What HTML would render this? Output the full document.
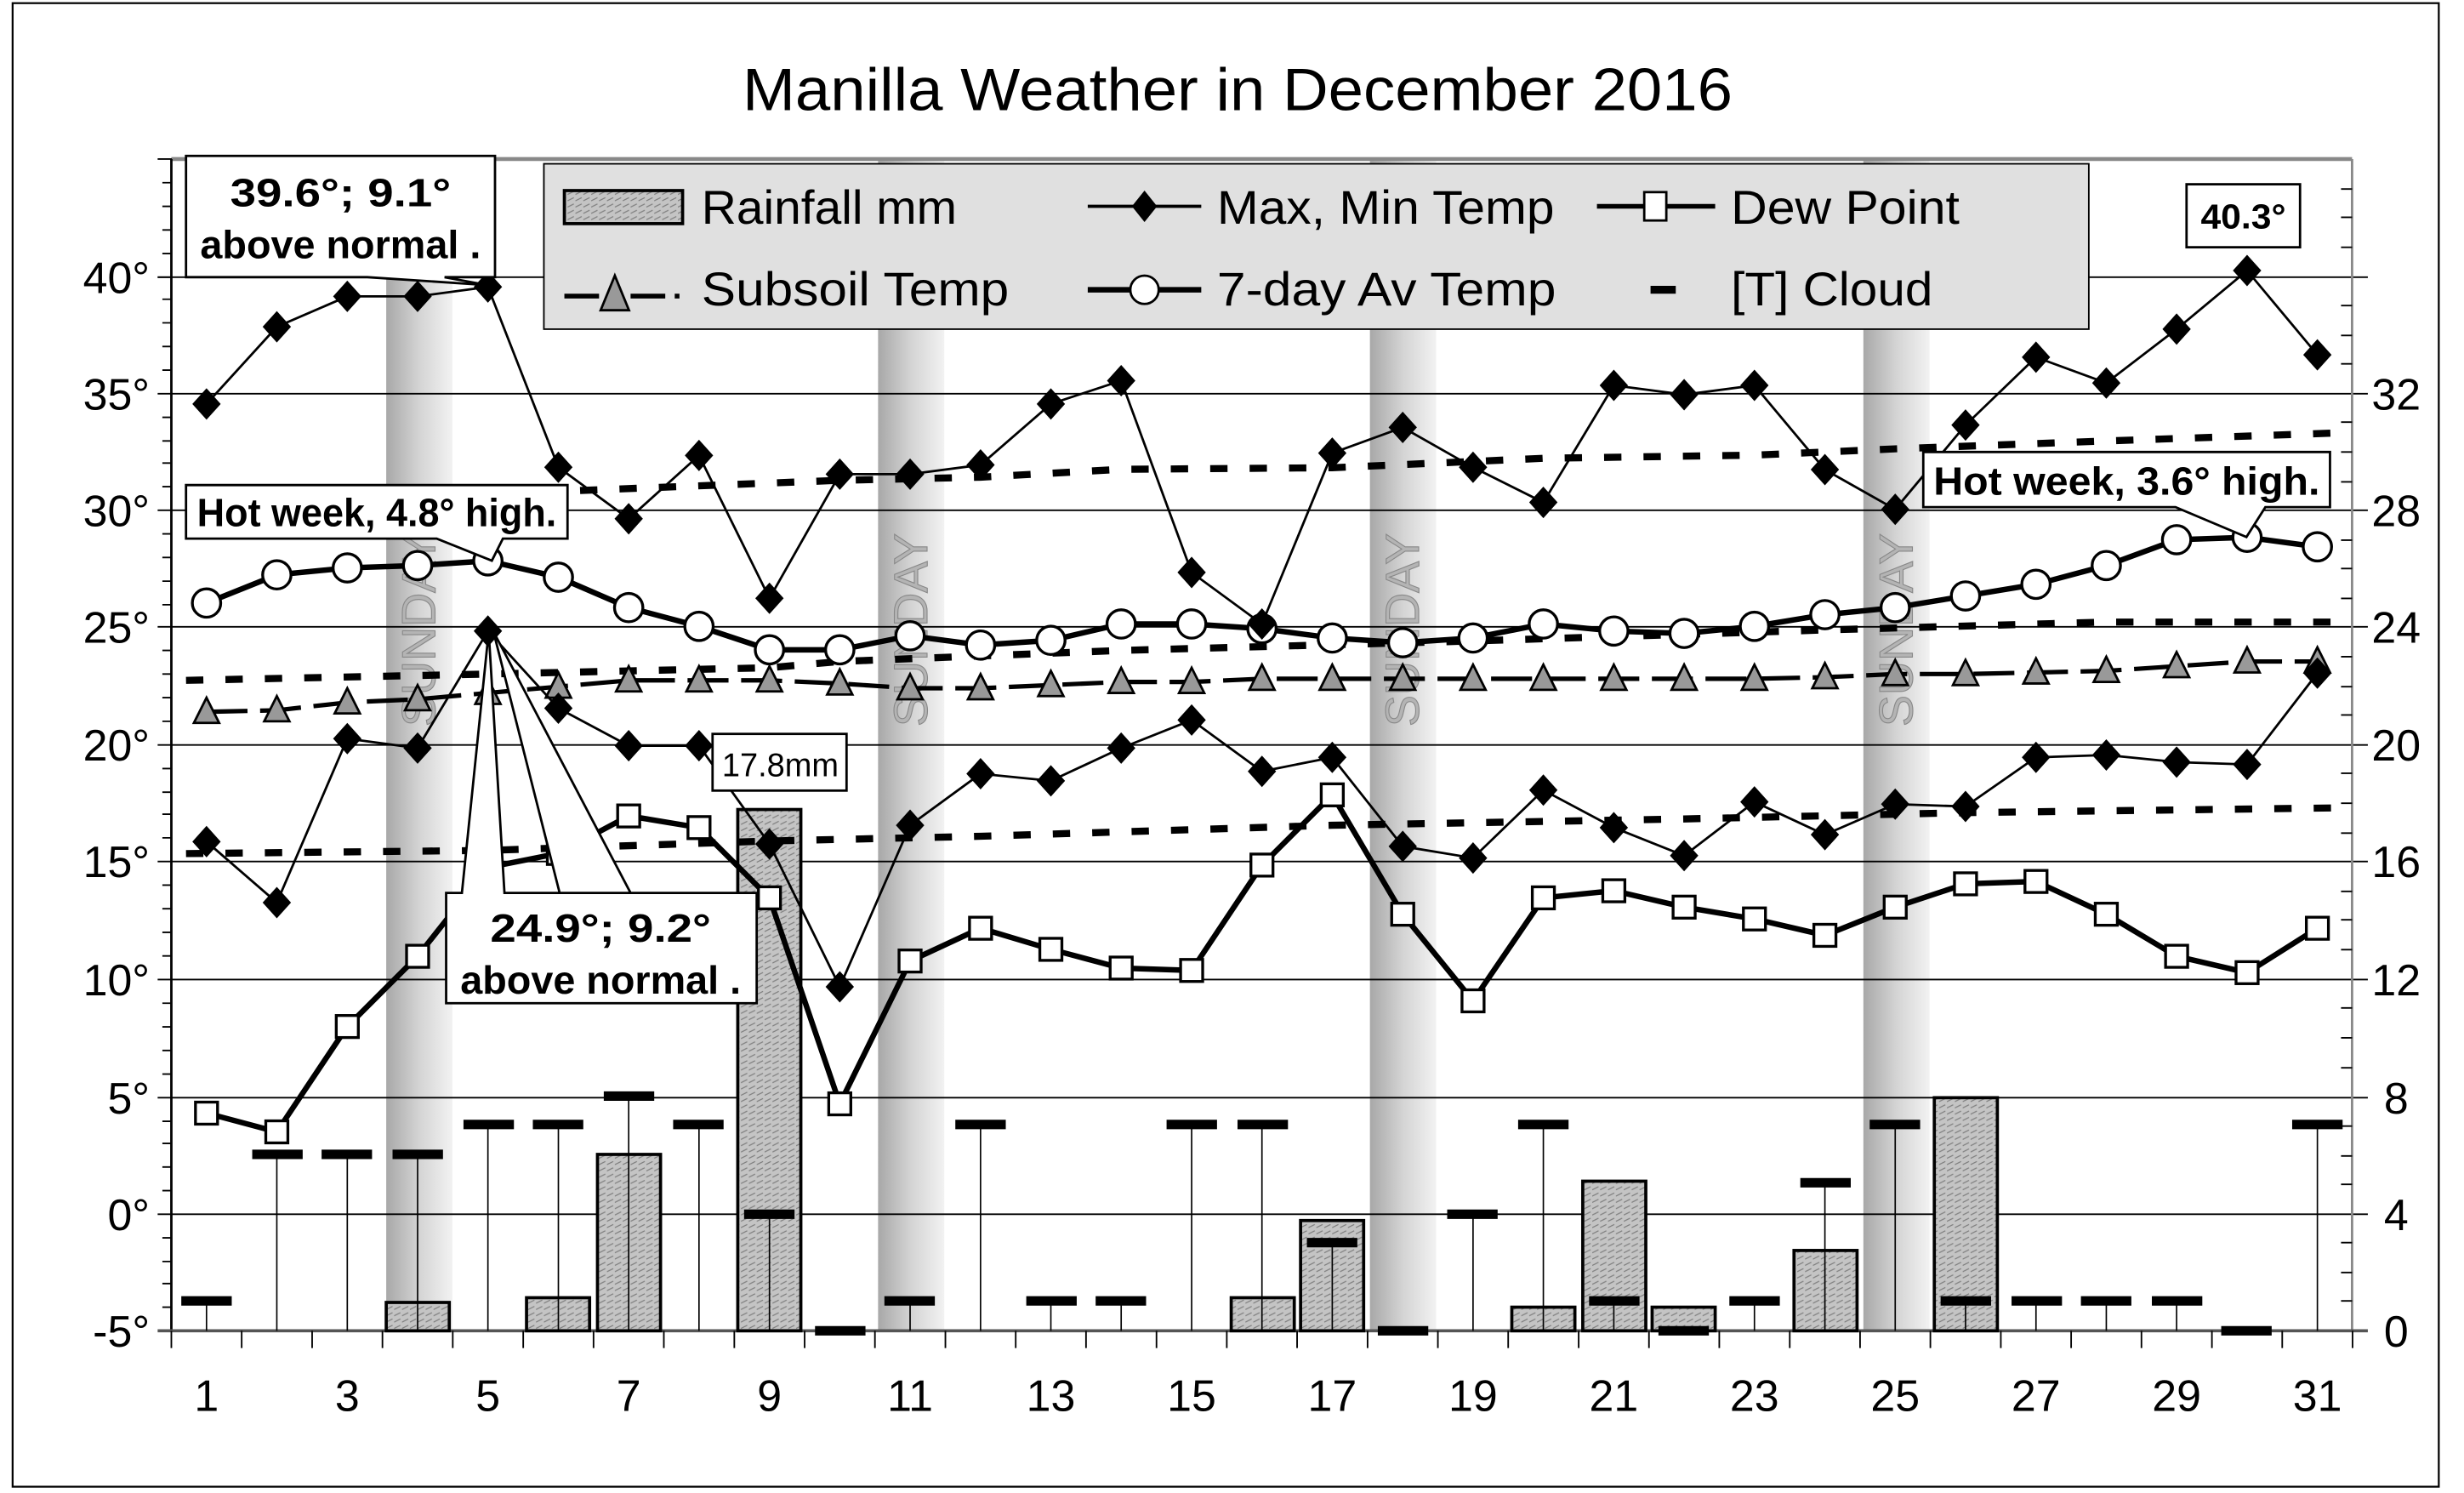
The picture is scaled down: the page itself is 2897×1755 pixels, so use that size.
<!DOCTYPE html>
<html><head><meta charset="utf-8"><style>html,body{margin:0;padding:0;background:#fff}svg{display:block}</style></head>
<body>
<svg width="2897" height="1755" viewBox="0 0 1563 948" preserveAspectRatio="none" xmlns="http://www.w3.org/2000/svg" font-family="Liberation Sans, Arial, sans-serif">
<defs>
<linearGradient id="sun" x1="0" x2="1" y1="0" y2="0"><stop offset="0" stop-color="#a8a8a8"/><stop offset="0.5" stop-color="#d4d4d4"/><stop offset="1" stop-color="#f2f2f2"/></linearGradient>
<pattern id="hat" width="5" height="4" patternUnits="userSpaceOnUse"><rect width="5" height="4" fill="#c4c4c4"/><path d="M0 3.5L4 1.5" stroke="#808080" stroke-width="0.7"/></pattern>
</defs>
<rect x="8" y="2" width="1539" height="942" fill="#fff" stroke="#000" stroke-width="1.2"/>
<text x="785" y="70" font-size="38" text-anchor="middle" textLength="628" lengthAdjust="spacingAndGlyphs">Manilla Weather in December 2016</text>

<g fill="url(#sun)">
<rect x="245" y="101" width="42" height="744"/><rect x="557" y="101" width="42" height="744"/><rect x="869" y="101" width="42" height="744"/><rect x="1182" y="101" width="42" height="744"/>
</g>
<g font-size="30" fill="#b4b4b4" stroke="#888" stroke-width="0.6" text-anchor="middle">
<text transform="translate(276,400) rotate(-90)">SUNDAY</text>
<text transform="translate(588,400) rotate(-90)">SUNDAY</text>
<text transform="translate(900,400) rotate(-90)">SUNDAY</text>
<text transform="translate(1213,400) rotate(-90)">SUNDAY</text>
</g>

<g stroke="#000" stroke-width="1">
<line x1="100" y1="176" x2="1502" y2="176"/><line x1="100" y1="250" x2="1502" y2="250"/><line x1="100" y1="324" x2="1502" y2="324"/><line x1="100" y1="398" x2="1502" y2="398"/><line x1="100" y1="473" x2="1502" y2="473"/><line x1="100" y1="547" x2="1502" y2="547"/><line x1="100" y1="622" x2="1502" y2="622"/><line x1="100" y1="697" x2="1502" y2="697"/><line x1="100" y1="771" x2="1502" y2="771"/>
</g>
<line x1="108.7" y1="101" x2="1492" y2="101" stroke="#888" stroke-width="2.5"/>
<line x1="108.7" y1="101" x2="108.7" y2="845" stroke="#000" stroke-width="1.5"/>
<line x1="1492" y1="101" x2="1492" y2="845" stroke="#888" stroke-width="1.5"/>
<line x1="100" y1="845" x2="1502" y2="845" stroke="#555" stroke-width="2"/>
<g stroke="#000" stroke-width="1">
<path d="M100 101h9M103 116h6M103 131h6M103 146h6M103 161h6M100 176h9M103 190h6M103 205h6M103 220h6M103 235h6M103 265h6M103 280h6M103 294h6M103 309h6M103 339h6M103 354h6M103 369h6M103 384h6M103 413h6M103 428h6M103 443h6M103 458h6M103 488h6M103 503h6M103 517h6M103 532h6M103 562h6M103 577h6M103 592h6M103 607h6M103 637h6M103 652h6M103 667h6M103 682h6M103 712h6M103 726h6M103 741h6M103 756h6M103 786h6M103 801h6M103 815h6M103 830h6"/>
<path d="M1485 120h7M1485 138h7M1485 157h7M1485 194h7M1485 213h7M1485 231h7M1485 268h7M1485 287h7M1485 306h7M1485 343h7M1485 361h7M1485 380h7M1485 417h7M1485 436h7M1485 454h7M1485 491h7M1485 510h7M1485 529h7M1485 566h7M1485 584h7M1485 603h7M1485 640h7M1485 659h7M1485 678h7M1485 715h7M1485 734h7M1485 752h7M1485 789h7M1485 808h7M1485 826h7"/>
<path d="M108.7 845v11M153.3 845v11M198 845v11M242.6 845v11M287.2 845v11M331.9 845v11M376.5 845v11M421.1 845v11M465.8 845v11M510.4 845v11M555 845v11M599.7 845v11M644.3 845v11M688.9 845v11M733.6 845v11M778.2 845v11M822.8 845v11M867.5 845v11M912.1 845v11M956.7 845v11M1001.4 845v11M1046 845v11M1090.6 845v11M1135.3 845v11M1179.9 845v11M1224.5 845v11M1269.2 845v11M1313.8 845v11M1358.4 845v11M1403.1 845v11M1447.7 845v11M1492.3 845v11"/>
</g>

<g fill="url(#hat)" stroke="#000" stroke-width="2">
<rect x="245" y="827" width="40" height="18"/><rect x="334" y="824" width="40" height="21"/><rect x="379" y="733" width="40" height="112"/><rect x="468" y="514" width="40" height="331"/><rect x="781" y="824" width="40" height="21"/><rect x="825" y="775" width="40" height="70"/><rect x="959" y="830" width="40" height="15"/><rect x="1004" y="750" width="40" height="95"/><rect x="1048" y="830" width="40" height="15"/><rect x="1138" y="794" width="40" height="51"/><rect x="1227" y="697" width="40" height="148"/>
</g>

<g stroke="#000" stroke-width="0.9">
<path d="M131 826V845M175.6 733V845M220.3 733V845M264.9 733V845M309.5 714V845M354.2 714V845M398.8 696V845M443.4 714V845M488.1 771V845M577.3 826V845M622 714V845M666.6 826V845M711.2 826V845M755.9 714V845M800.5 714V845M845.1 789V845M934.4 771V845M979 714V845M1023.7 826V845M1112.9 826V845M1157.6 751V845M1202.2 714V845M1246.8 826V845M1291.5 826V845M1336.1 826V845M1380.7 826V845M1470 714V845"/>
</g>
<g stroke="#000" stroke-width="6">
<path d="M115 826h32M160 733h32M204 733h32M249 733h32M294 714h32M338 714h32M383 696h32M427 714h32M472 771h32M517 845h32M561 826h32M606 714h32M651 826h32M695 826h32M740 714h32M785 714h32M829 789h32M874 845h32M918 771h32M963 714h32M1008 826h32M1052 845h32M1097 826h32M1142 751h32M1186 714h32M1231 826h32M1276 826h32M1320 826h32M1365 826h32M1409 845h32M1454 714h32"/>
</g>

<g fill="none" stroke="#000" stroke-width="4.5" stroke-dasharray="11 14">
<polyline points="118,316 354,312 532,305 622,303 711,298 845,297 979,291 1113,289 1202,285 1336,280 1480,275"/>
<polyline points="118,432 309,428 488,424 533,420 711,413 934,407 1158,400 1336,395 1480,395"/>
<polyline points="118,542 309,540 488,534 622,531 845,524 1068,520 1247,516 1480,513"/>
</g>

<polyline fill="none" stroke="#000" stroke-width="2.8" stroke-dasharray="26 8" points="131,452 175.6,451 220.3,446 264.9,444 309.5,440 354.2,436 398.8,432 443.4,432 488.1,432 532.7,434 577.3,437 622,437 666.6,435 711.2,433 755.9,433 800.5,431 845.1,431 889.8,431 934.4,431 979,431 1023.7,431 1068.3,431 1112.9,431 1157.6,430 1202.2,428 1246.8,428 1291.5,427 1336.1,426 1380.7,423 1425.4,420 1470,420"/>
<g fill="#999" stroke="#000" stroke-width="1.5">
<path d="M131,443l-8,16h16z"/><path d="M175.6,442l-8,16h16z"/><path d="M220.3,437l-8,16h16z"/><path d="M264.9,435l-8,16h16z"/><path d="M309.5,431l-8,16h16z"/><path d="M354.2,427l-8,16h16z"/><path d="M398.8,423l-8,16h16z"/><path d="M443.4,423l-8,16h16z"/><path d="M488.1,423l-8,16h16z"/><path d="M532.7,425l-8,16h16z"/><path d="M577.3,428l-8,16h16z"/><path d="M622,428l-8,16h16z"/><path d="M666.6,426l-8,16h16z"/><path d="M711.2,424l-8,16h16z"/><path d="M755.9,424l-8,16h16z"/><path d="M800.5,422l-8,16h16z"/><path d="M845.1,422l-8,16h16z"/><path d="M889.8,422l-8,16h16z"/><path d="M934.4,422l-8,16h16z"/><path d="M979,422l-8,16h16z"/><path d="M1023.7,422l-8,16h16z"/><path d="M1068.3,422l-8,16h16z"/><path d="M1112.9,422l-8,16h16z"/><path d="M1157.6,421l-8,16h16z"/><path d="M1202.2,419l-8,16h16z"/><path d="M1246.8,419l-8,16h16z"/><path d="M1291.5,418l-8,16h16z"/><path d="M1336.1,417l-8,16h16z"/><path d="M1380.7,414l-8,16h16z"/><path d="M1425.4,411l-8,16h16z"/><path d="M1470,411l-8,16h16z"/>
</g>

<polyline fill="none" stroke="#000" stroke-width="3.5" points="131,382.9 175.6,365 220.3,360.6 264.9,359.1 309.5,356.1 354.2,366.5 398.8,385.8 443.4,397.7 488.1,412.6 532.7,412.6 577.3,403.7 622,409.6 666.6,406.6 711.2,396.2 755.9,396.2 800.5,399.2 845.1,405.1 889.8,408.1 934.4,405.1 979,396.2 1023.7,400.7 1068.3,402.2 1112.9,397.7 1157.6,390.3 1202.2,385.8 1246.8,378.4 1291.5,371 1336.1,359.1 1380.7,342.7 1425.4,341.2 1470,347.2"/>
<g fill="#fff" stroke="#000" stroke-width="1.8">
<circle cx="131" cy="382.9" r="9"/><circle cx="175.6" cy="365" r="9"/><circle cx="220.3" cy="360.6" r="9"/><circle cx="264.9" cy="359.1" r="9"/><circle cx="309.5" cy="356.1" r="9"/><circle cx="354.2" cy="366.5" r="9"/><circle cx="398.8" cy="385.8" r="9"/><circle cx="443.4" cy="397.7" r="9"/><circle cx="488.1" cy="412.6" r="9"/><circle cx="532.7" cy="412.6" r="9"/><circle cx="577.3" cy="403.7" r="9"/><circle cx="622" cy="409.6" r="9"/><circle cx="666.6" cy="406.6" r="9"/><circle cx="711.2" cy="396.2" r="9"/><circle cx="755.9" cy="396.2" r="9"/><circle cx="800.5" cy="399.2" r="9"/><circle cx="845.1" cy="405.1" r="9"/><circle cx="889.8" cy="408.1" r="9"/><circle cx="934.4" cy="405.1" r="9"/><circle cx="979" cy="396.2" r="9"/><circle cx="1023.7" cy="400.7" r="9"/><circle cx="1068.3" cy="402.2" r="9"/><circle cx="1112.9" cy="397.7" r="9"/><circle cx="1157.6" cy="390.3" r="9"/><circle cx="1202.2" cy="385.8" r="9"/><circle cx="1246.8" cy="378.4" r="9"/><circle cx="1291.5" cy="371" r="9"/><circle cx="1336.1" cy="359.1" r="9"/><circle cx="1380.7" cy="342.7" r="9"/><circle cx="1425.4" cy="341.2" r="9"/><circle cx="1470" cy="347.2" r="9"/>
</g>

<polyline fill="none" stroke="#000" stroke-width="3.5" points="131,706.8 175.6,718.7 220.3,651.8 264.9,607.2 309.5,550.8 354.2,541.9 398.8,518.1 443.4,525.5 488.1,570.1 532.7,700.9 577.3,610.2 622,589.4 666.6,602.8 711.2,614.7 755.9,616.2 800.5,549.3 845.1,504.7 889.8,580.5 934.4,635.5 979,570.1 1023.7,565.6 1068.3,576 1112.9,583.5 1157.6,593.9 1202.2,576 1246.8,561.2 1291.5,559.7 1336.1,580.5 1380.7,607.2 1425.4,617.6 1470,589.4"/>
<g fill="#fff" stroke="#000" stroke-width="1.8">
<rect x="124" y="699.8" width="14" height="14"/><rect x="168.6" y="711.7" width="14" height="14"/><rect x="213.3" y="644.8" width="14" height="14"/><rect x="257.9" y="600.2" width="14" height="14"/><rect x="302.5" y="543.8" width="14" height="14"/><rect x="347.2" y="534.9" width="14" height="14"/><rect x="391.8" y="511.1" width="14" height="14"/><rect x="436.4" y="518.5" width="14" height="14"/><rect x="481.1" y="563.1" width="14" height="14"/><rect x="525.7" y="693.9" width="14" height="14"/><rect x="570.3" y="603.2" width="14" height="14"/><rect x="615" y="582.4" width="14" height="14"/><rect x="659.6" y="595.8" width="14" height="14"/><rect x="704.2" y="607.7" width="14" height="14"/><rect x="748.9" y="609.2" width="14" height="14"/><rect x="793.5" y="542.3" width="14" height="14"/><rect x="838.1" y="497.7" width="14" height="14"/><rect x="882.8" y="573.5" width="14" height="14"/><rect x="927.4" y="628.5" width="14" height="14"/><rect x="972" y="563.1" width="14" height="14"/><rect x="1016.7" y="558.6" width="14" height="14"/><rect x="1061.3" y="569" width="14" height="14"/><rect x="1105.9" y="576.5" width="14" height="14"/><rect x="1150.6" y="586.9" width="14" height="14"/><rect x="1195.2" y="569" width="14" height="14"/><rect x="1239.8" y="554.2" width="14" height="14"/><rect x="1284.5" y="552.7" width="14" height="14"/><rect x="1329.1" y="573.5" width="14" height="14"/><rect x="1373.7" y="600.2" width="14" height="14"/><rect x="1418.4" y="610.6" width="14" height="14"/><rect x="1463" y="582.4" width="14" height="14"/>
</g>

<g fill="none" stroke="#000" stroke-width="1.5">
<polyline points="131,256.5 175.6,207.5 220.3,188.2 264.9,188.2 309.5,182.2 354.2,296.7 398.8,329.4 443.4,289.2 488.1,379.9 532.7,301.1 577.3,301.1 622,295.2 666.6,256.5 711.2,241.7 755.9,363.5 800.5,396.2 845.1,287.7 889.8,271.4 934.4,296.7 979,319 1023.7,244.7 1068.3,250.6 1112.9,244.7 1157.6,298.2 1202.2,323.4 1246.8,269.9 1291.5,226.8 1336.1,243.2 1380.7,209 1425.4,171.8 1470,225.3"/>
<polyline points="131,534.4 175.6,573.1 220.3,469 264.9,475 309.5,400.7 354.2,449.7 398.8,473.5 443.4,473.5 488.1,535.9 532.7,626.6 577.3,524 622,491.3 666.6,495.8 711.2,475 755.9,457.2 800.5,489.8 845.1,480.9 889.8,537.4 934.4,544.8 979,501.7 1023.7,525.5 1068.3,543.3 1112.9,509.2 1157.6,530 1202.2,510.6 1246.8,512.1 1291.5,480.9 1336.1,479.4 1380.7,483.9 1425.4,485.4 1470,427.4"/>
</g>
<g fill="#000">
<path d="M131,246.5l9,10-9,10-9-10z"/><path d="M175.6,197.5l9,10-9,10-9-10z"/><path d="M220.3,178.2l9,10-9,10-9-10z"/><path d="M264.9,178.2l9,10-9,10-9-10z"/><path d="M309.5,172.2l9,10-9,10-9-10z"/><path d="M354.2,286.7l9,10-9,10-9-10z"/><path d="M398.8,319.4l9,10-9,10-9-10z"/><path d="M443.4,279.2l9,10-9,10-9-10z"/><path d="M488.1,369.9l9,10-9,10-9-10z"/><path d="M532.7,291.1l9,10-9,10-9-10z"/><path d="M577.3,291.1l9,10-9,10-9-10z"/><path d="M622,285.2l9,10-9,10-9-10z"/><path d="M666.6,246.5l9,10-9,10-9-10z"/><path d="M711.2,231.7l9,10-9,10-9-10z"/><path d="M755.9,353.5l9,10-9,10-9-10z"/><path d="M800.5,386.2l9,10-9,10-9-10z"/><path d="M845.1,277.7l9,10-9,10-9-10z"/><path d="M889.8,261.4l9,10-9,10-9-10z"/><path d="M934.4,286.7l9,10-9,10-9-10z"/><path d="M979,309l9,10-9,10-9-10z"/><path d="M1023.7,234.7l9,10-9,10-9-10z"/><path d="M1068.3,240.6l9,10-9,10-9-10z"/><path d="M1112.9,234.7l9,10-9,10-9-10z"/><path d="M1157.6,288.2l9,10-9,10-9-10z"/><path d="M1202.2,313.4l9,10-9,10-9-10z"/><path d="M1246.8,259.9l9,10-9,10-9-10z"/><path d="M1291.5,216.8l9,10-9,10-9-10z"/><path d="M1336.1,233.2l9,10-9,10-9-10z"/><path d="M1380.7,199l9,10-9,10-9-10z"/><path d="M1425.4,161.8l9,10-9,10-9-10z"/><path d="M1470,215.3l9,10-9,10-9-10z"/>
<path d="M131,524.4l9,10-9,10-9-10z"/><path d="M175.6,563.1l9,10-9,10-9-10z"/><path d="M220.3,459l9,10-9,10-9-10z"/><path d="M264.9,465l9,10-9,10-9-10z"/><path d="M309.5,390.7l9,10-9,10-9-10z"/><path d="M354.2,439.7l9,10-9,10-9-10z"/><path d="M398.8,463.5l9,10-9,10-9-10z"/><path d="M443.4,463.5l9,10-9,10-9-10z"/><path d="M488.1,525.9l9,10-9,10-9-10z"/><path d="M532.7,616.6l9,10-9,10-9-10z"/><path d="M577.3,514l9,10-9,10-9-10z"/><path d="M622,481.3l9,10-9,10-9-10z"/><path d="M666.6,485.8l9,10-9,10-9-10z"/><path d="M711.2,465l9,10-9,10-9-10z"/><path d="M755.9,447.2l9,10-9,10-9-10z"/><path d="M800.5,479.8l9,10-9,10-9-10z"/><path d="M845.1,470.9l9,10-9,10-9-10z"/><path d="M889.8,527.4l9,10-9,10-9-10z"/><path d="M934.4,534.8l9,10-9,10-9-10z"/><path d="M979,491.7l9,10-9,10-9-10z"/><path d="M1023.7,515.5l9,10-9,10-9-10z"/><path d="M1068.3,533.3l9,10-9,10-9-10z"/><path d="M1112.9,499.2l9,10-9,10-9-10z"/><path d="M1157.6,520l9,10-9,10-9-10z"/><path d="M1202.2,500.6l9,10-9,10-9-10z"/><path d="M1246.8,502.1l9,10-9,10-9-10z"/><path d="M1291.5,470.9l9,10-9,10-9-10z"/><path d="M1336.1,469.4l9,10-9,10-9-10z"/><path d="M1380.7,473.9l9,10-9,10-9-10z"/><path d="M1425.4,475.4l9,10-9,10-9-10z"/><path d="M1470,417.4l9,10-9,10-9-10z"/>
</g>

<rect x="345" y="104" width="980" height="105" fill="#e0e0e0" stroke="#000" stroke-width="1"/>
<g font-size="30">
<rect x="358" y="121" width="75" height="21" fill="url(#hat)" stroke="#000" stroke-width="2"/>
<text x="445" y="142" textLength="162" lengthAdjust="spacingAndGlyphs">Rainfall mm</text>
<line x1="690" y1="131" x2="762" y2="131" stroke="#000" stroke-width="2"/><path d="M726,121l8,10-8,10-8-10z"/>
<text x="772" y="142" textLength="214" lengthAdjust="spacingAndGlyphs">Max, Min Temp</text>
<line x1="1013" y1="131" x2="1088" y2="131" stroke="#000" stroke-width="3"/><rect x="1043" y="122" width="14" height="18" fill="#fff" stroke="#000" stroke-width="1.5"/>
<text x="1098" y="142" textLength="145" lengthAdjust="spacingAndGlyphs">Dew Point</text>
<path d="M358 188h22M400 188h22M428 188h3" stroke="#000" stroke-width="3"/><path d="M390,175l-9,22h18z" fill="#999" stroke="#000" stroke-width="1.5"/>
<text x="445" y="194" textLength="195" lengthAdjust="spacingAndGlyphs">Subsoil Temp</text>
<line x1="690" y1="184" x2="762" y2="184" stroke="#000" stroke-width="3.5"/><circle cx="726" cy="184" r="9" fill="#fff" stroke="#000" stroke-width="1.5"/>
<text x="772" y="194" textLength="215" lengthAdjust="spacingAndGlyphs">7-day Av Temp</text>
<line x1="1047" y1="184" x2="1063" y2="184" stroke="#000" stroke-width="5"/>
<text x="1098" y="194" textLength="128" lengthAdjust="spacingAndGlyphs">[T] Cloud</text>
</g>

<g stroke="#000" stroke-width="1.5" fill="#fff">
<path d="M118 99H314V176H282L309 181L233 176H118Z"/>
<path d="M118 308H360V342H319L312 356L277 342H118Z"/>
<path d="M283 567H293L310 401L320 567H400L313 401L355 567H480V637H283Z"/>
<rect x="452" y="466" width="85" height="36"/>
<rect x="1387" y="117" width="72" height="40"/>
<path d="M1220 287H1478V322H1437L1425 341L1380 322H1220Z"/>
</g>
<g font-size="25" font-weight="bold" text-anchor="middle">
<text x="216" y="131" textLength="140" lengthAdjust="spacingAndGlyphs">39.6°;  9.1°</text>
<text x="216" y="164" textLength="178" lengthAdjust="spacingAndGlyphs">above normal .</text>
<text x="239" y="334" textLength="228" lengthAdjust="spacingAndGlyphs">Hot week, 4.8° high.</text>
<text x="381" y="598" textLength="140" lengthAdjust="spacingAndGlyphs">24.9°;  9.2°</text>
<text x="381" y="631" textLength="178" lengthAdjust="spacingAndGlyphs">above normal .</text>
<text x="1349" y="314" textLength="245" lengthAdjust="spacingAndGlyphs">Hot week, 3.6° high.</text>
<text x="1423" y="145" font-size="22" textLength="54" lengthAdjust="spacingAndGlyphs">40.3°</text>
<text x="495" y="493" font-size="21" font-weight="normal" textLength="74" lengthAdjust="spacingAndGlyphs">17.8mm</text>
</g>

<g font-size="28" text-anchor="end">
<text x="95" y="186">40°</text><text x="95" y="260">35°</text><text x="95" y="334">30°</text><text x="95" y="408">25°</text><text x="95" y="483">20°</text><text x="95" y="557">15°</text><text x="95" y="632">10°</text><text x="95" y="707">5°</text><text x="95" y="781">0°</text><text x="95" y="855">-5°</text>
</g>
<g font-size="28" text-anchor="middle">
<text x="1520" y="260">32</text><text x="1520" y="334">28</text><text x="1520" y="408">24</text><text x="1520" y="483">20</text><text x="1520" y="557">16</text><text x="1520" y="632">12</text><text x="1520" y="707">8</text><text x="1520" y="781">4</text><text x="1520" y="855">0</text>
</g>
<g font-size="28" text-anchor="middle">
<text x="131" y="896">1</text><text x="220.3" y="896">3</text><text x="309.5" y="896">5</text><text x="398.8" y="896">7</text><text x="488.1" y="896">9</text><text x="577.3" y="896">11</text><text x="666.6" y="896">13</text><text x="755.9" y="896">15</text><text x="845.1" y="896">17</text><text x="934.4" y="896">19</text><text x="1023.7" y="896">21</text><text x="1112.9" y="896">23</text><text x="1202.2" y="896">25</text><text x="1291.5" y="896">27</text><text x="1380.7" y="896">29</text><text x="1470" y="896">31</text>
</g>
</svg>
</body></html>
